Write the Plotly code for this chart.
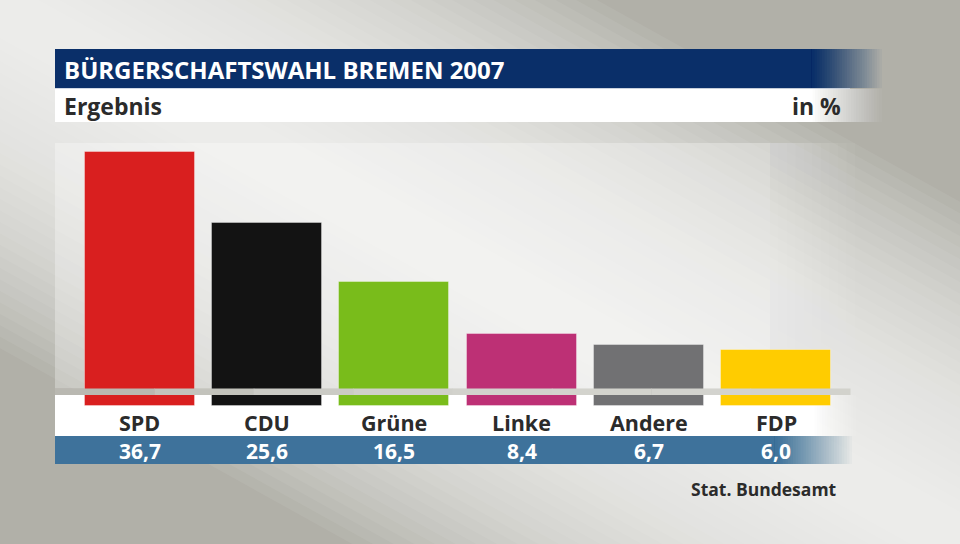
import plotly.graph_objects as go

# ---------------- data ----------------
parties = ["SPD", "CDU", "Grüne", "Linke", "Andere", "FDP"]
values = [36.7, 25.6, 16.5, 8.4, 6.7, 6.0]
value_labels = ["36,7", "25,6", "16,5", "8,4", "6,7", "6,0"]
colors = ["#d91f1f", "#131313", "#79bc1b", "#bd3075", "#717173", "#ffcc00"]

title = "BÜRGERSCHAFTSWAHL BREMEN 2007"
subtitle = "Ergebnis"
unit = "in %"
source = "Stat. Bundesamt"

# ---------------- geometry (pixels) ----------------
W, H = 960, 544
L, R, T, B = 76, 840, 127, 470
SCALE = 6.45        # px per percentage point
ZERO = 388.5        # pixel row of value 0
STUB = 17.5 / SCALE  # bars continue below the band

def px(x):
    return (x - L) / (R - L)

def py(y):
    return (B - y) / (B - T)

shapes = []

def rect(x0, y0, x1, y1, color, opacity=1.0, layer="below"):
    shapes.append(dict(type="rect", xref="paper", yref="paper",
                       x0=px(x0), x1=px(x1), y0=py(y1), y1=py(y0),
                       fillcolor=color, opacity=opacity, line=dict(width=0),
                       layer=layer))

def fade_rect(x0, xf0, xf1, y0, y1, color, base_op=1.0, layer="below"):
    # solid part, then nested rects (all starting at xf0) giving a linear fade
    target = base_op
    rect(x0, y0, xf0, y1, color, target, layer)
    n = max(6, min(int((xf1 - xf0) / 2.5), int(target * 36)))
    prev = 0.0
    for j in range(1, n + 1):
        o = target * j / n
        a = 1 - (1 - o) / (1 - prev) if prev < 1 else 1
        prev = o
        end = xf0 + (xf1 - xf0) * (n - j + 1) / n
        rect(xf0 - 0.4, y0, end, y1, color, min(a, 1.0), layer)

# background: diagonal light band over grey
x0l, y0l, x1l, y1l = -60, -25, 1020, 575
n_bands = 28
for i in range(n_bands):
    d = 340 - i * (310 / (n_bands - 1))
    pts = [(x0l, y0l - d), (x1l, y1l - d), (x1l, y1l + d), (x0l, y0l + d)]
    path = "M " + " L ".join(f"{px(a)},{py(b)}" for a, b in pts) + " Z"
    shapes.append(dict(type="path", xref="paper", yref="paper", path=path,
                       fillcolor="white", opacity=0.064, line=dict(width=0),
                       layer="below"))

# chart panel (lighter area behind bars)
fade_rect(55, 770, 855, 143, 388.5, "#ffffff", base_op=0.3)

# title bar
fade_rect(55, 812, 882, 49, 88, "#0a2f69")
rect(55, 88, 850, 89.2, "#c9d3e3", 0.8)
# subtitle bar
fade_rect(55, 810, 882, 89, 122, "#ffffff")
# label area
fade_rect(55, 812, 856, 395, 436, "#ffffff")
# value bar
fade_rect(55, 775, 852, 436, 464, "#3e729b")

# grey band crossing the bars (above)
band_cols = ["#b9b8b1", "#c3c3bc", "#cbcbc5", "#d0d0ca", "#d2d2cc", "#d3d3cd", "#d3d3ce", "#d2d2cc"]
seg = (850 - 55) / len(band_cols)
for i, c in enumerate(band_cols):
    rect(55 + i * seg, ZERO, 55 + (i + 1) * seg + 0.5, 395, c, 1.0, layer="above")

# ---------------- bars ----------------
fig = go.Figure()
fig.add_trace(go.Bar(
    x=parties,
    y=[v + STUB for v in values],
    base=[-STUB] * len(values),
    marker=dict(color=colors, line=dict(color="rgba(255,255,255,0.35)", width=1)),
    width=0.865,
    hoverinfo="skip",
))

annotations = []
FONT = "Open Sans"
annotations.append(dict(text=f"<b>{title}</b>", x=px(62), y=py(69), xref="paper", yref="paper",
                        xanchor="left", yanchor="middle", showarrow=False,
                        font=dict(family=FONT, size=24, color="white")))
annotations.append(dict(text=f"<b>{subtitle}</b>", x=px(62), y=py(106), xref="paper", yref="paper",
                        xanchor="left", yanchor="middle", showarrow=False,
                        font=dict(family=FONT, size=23, color="#2b2b2b")))
annotations.append(dict(text=f"<b>{unit}</b>", x=px(843), y=py(106), xref="paper", yref="paper",
                        xanchor="right", yanchor="middle", showarrow=False,
                        font=dict(family=FONT, size=23, color="#2b2b2b")))
annotations.append(dict(text=f"<b>{source}</b>", x=px(839), y=py(489), xref="paper", yref="paper",
                        xanchor="right", yanchor="middle", showarrow=False,
                        font=dict(family=FONT, size=17.5, color="#2b2b2b")))
for p, vl in zip(parties, value_labels):
    annotations.append(dict(text=f"<b>{p}</b>", x=p, y=py(422), xref="x", yref="paper",
                            xanchor="center", yanchor="middle", showarrow=False,
                            font=dict(family=FONT, size=21.5, color="#2b2b2b")))
    annotations.append(dict(text=f"<b>{vl}</b>", x=p, y=py(451), xref="x", yref="paper",
                            xanchor="center", yanchor="middle", showarrow=False,
                            font=dict(family=FONT, size=21, color="white")))

fig.update_layout(
    width=W, height=H,
    margin=dict(l=L, r=W - R, t=T, b=H - B, pad=0),
    paper_bgcolor="#b1b0a8",
    plot_bgcolor="rgba(0,0,0,0)",
    showlegend=False,
    shapes=shapes,
    annotations=annotations,
    xaxis=dict(visible=False, range=[-0.5, 5.5], fixedrange=True),
    yaxis=dict(visible=False, range=[-(B - ZERO) / SCALE, (ZERO - T) / SCALE], fixedrange=True),
    bargap=0,
)

fig.write_html("out.html", config={"displayModeBar": False},
               post_script="document.body.style.margin='0';document.body.style.overflow='hidden';")
